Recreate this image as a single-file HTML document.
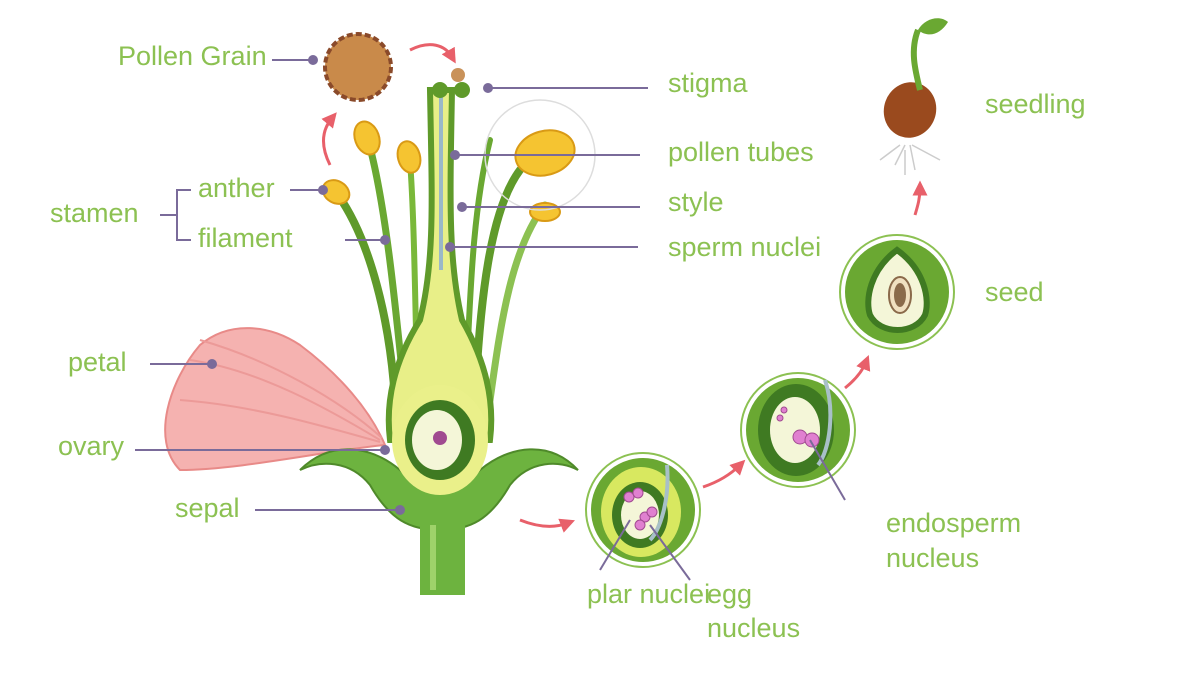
<!DOCTYPE html>
<html><head><meta charset="utf-8"><style>
html,body{margin:0;padding:0;background:#fff;}
svg{display:block}
text{font-family:"Liberation Sans",sans-serif;font-size:27px;fill:#8cc152;}
</style></head><body>
<svg width="1200" height="675" viewBox="0 0 1200 675" xmlns="http://www.w3.org/2000/svg">
<defs>
<marker id="ar" viewBox="0 0 10 10" refX="5" refY="5" markerWidth="5" markerHeight="5" orient="auto"><path d="M0,0 L10,5 L0,10 z" fill="#e8606a"/></marker>
</defs>
<path d="M385,445 C330,450 240,470 180,470 C150,440 170,380 200,345 C230,320 270,325 300,345 C340,375 370,410 385,445 z" fill="#f5b2b0" stroke="#e88a88" stroke-width="2"/>
<path d="M190,360 C260,370 330,410 380,440 M180,400 C250,405 320,425 380,442 M200,340 C270,360 340,400 382,438" stroke="#ec9a98" stroke-width="2" fill="none"/>
<g fill="none" stroke-linecap="round">
<path d="M338,195 C370,240 390,320 395,400" stroke="#5f9a2a" stroke-width="8"/>
<path d="M368,140 C385,200 395,300 405,400" stroke="#6aa832" stroke-width="7"/>
<path d="M410,160 C415,230 415,320 418,400" stroke="#7ab83a" stroke-width="6"/>
<path d="M520,170 C490,210 480,300 475,400" stroke="#5f9a2a" stroke-width="8"/>
<path d="M545,205 C510,250 500,330 490,400" stroke="#8cc152" stroke-width="7"/>
<path d="M490,140 C470,220 470,320 465,400" stroke="#6aa832" stroke-width="6"/>
</g>
<g fill="#f5c431" stroke="#d99a15" stroke-width="2">
<ellipse cx="336" cy="192" rx="14" ry="11" transform="rotate(30 336 192)"/>
<ellipse cx="367" cy="138" rx="12" ry="17" transform="rotate(-20 367 138)"/>
<ellipse cx="409" cy="157" rx="11" ry="16" transform="rotate(-15 409 157)"/>
<ellipse cx="545" cy="153" rx="30" ry="22" transform="rotate(-15 545 153)"/>
<ellipse cx="545" cy="212" rx="15" ry="9"/>
</g>
<circle cx="540" cy="155" r="55" fill="none" stroke="#ddd" stroke-width="1.5"/>
<path d="M430,90 C432,200 435,260 420,320 C395,360 385,400 390,440 L490,440 C495,400 485,360 462,320 C448,260 450,200 452,90 z" fill="#e8ef88" stroke="#5f9a2a" stroke-width="6"/>
<path d="M441,90 L441,270" stroke="#9ab8c8" stroke-width="4"/>
<circle cx="440" cy="90" r="8" fill="#5f9a2a"/><circle cx="462" cy="90" r="8" fill="#5f9a2a"/>
<circle cx="458" cy="75" r="7" fill="#c9925a"/>
<path d="M300,470 C330,440 370,445 400,470 C420,490 460,490 480,470 C510,445 550,440 578,470 C560,460 530,460 510,485 C490,520 470,530 440,530 C410,530 390,520 370,485 C350,460 320,460 300,470 z" fill="#6db33f" stroke="#4f8a2a" stroke-width="2"/>
<path d="M420,520 L420,595 L465,595 L465,520 z" fill="#6db33f"/>
<path d="M433,525 L433,590" stroke="#9ed26a" stroke-width="6"/>
<ellipse cx="440" cy="440" rx="48" ry="55" fill="#eaf08a"/>
<ellipse cx="440" cy="440" rx="35" ry="40" fill="#3f7a22"/>
<ellipse cx="437" cy="440" rx="25" ry="30" fill="#f4f6d8"/>
<circle cx="440" cy="438" r="7" fill="#a04a90"/>
<circle cx="358" cy="67" r="33" fill="#c98a4a" stroke="#8a4a2a" stroke-width="4" stroke-dasharray="6 3"/>
<path d="M410,50 C430,40 445,45 452,57" stroke="#e8606a" stroke-width="3" fill="none" marker-end="url(#ar)"/>
<path d="M330,165 C320,145 322,130 332,118" stroke="#e8606a" stroke-width="3" fill="none" marker-end="url(#ar)"/>
<g stroke="#e8606a" stroke-width="3" fill="none" marker-end="url(#ar)">
<path d="M520,520 C540,528 555,528 568,523"/>
<path d="M703,487 C718,482 730,475 740,465"/>
<path d="M845,388 C855,380 862,372 866,362"/>
<path d="M915,215 C918,205 920,198 920,188"/>
</g>
<g>
<circle cx="643" cy="510" r="57" fill="#fff" stroke="#8cc152" stroke-width="2"/>
<circle cx="643" cy="510" r="52" fill="#6aa832"/>
<ellipse cx="641" cy="512" rx="40" ry="45" fill="#d8e860"/>
<ellipse cx="640" cy="515" rx="28" ry="33" fill="#3f7a22"/>
<ellipse cx="640" cy="515" rx="19" ry="24" fill="#f4f6d8"/>
<g fill="#e080d0" stroke="#a04a90"><circle cx="629" cy="497" r="5"/><circle cx="638" cy="493" r="5"/><circle cx="645" cy="517" r="5"/><circle cx="652" cy="512" r="5"/><circle cx="640" cy="525" r="5"/></g>
<path d="M667,465 C670,500 660,530 650,540" stroke="#a8c0c8" stroke-width="4" fill="none"/>
</g>
<g>
<circle cx="798" cy="430" r="57" fill="#fff" stroke="#8cc152" stroke-width="2"/>
<circle cx="798" cy="430" r="52" fill="#6aa832"/>
<ellipse cx="796" cy="430" rx="38" ry="46" fill="#3f7a22"/>
<ellipse cx="795" cy="430" rx="25" ry="33" fill="#f4f6d8"/>
<g fill="#e080d0" stroke="#a04a90"><circle cx="800" cy="437" r="7"/><circle cx="812" cy="440" r="7"/><circle cx="784" cy="410" r="3"/><circle cx="780" cy="418" r="3"/></g>
<path d="M825,380 C835,410 830,450 818,465" stroke="#a8c0c8" stroke-width="4" fill="none"/>
</g>
<g>
<circle cx="897" cy="292" r="57" fill="#fff" stroke="#8cc152" stroke-width="2"/>
<circle cx="897" cy="292" r="52" fill="#6aa832"/>
<path d="M897,250 C870,270 865,300 870,315 C880,335 915,335 925,315 C930,300 925,270 897,250 z" fill="#f4f6d8" stroke="#3f7a22" stroke-width="6"/>
<ellipse cx="900" cy="295" rx="11" ry="18" fill="#f0e0c0" stroke="#8a6a4a" stroke-width="2"/>
<ellipse cx="900" cy="295" rx="6" ry="12" fill="#8a6a4a"/>
</g>
<path d="M905,145 L895,165 M910,145 L915,170 M900,145 L880,160 M912,145 L940,160 M905,150 L905,175" stroke="#ccc" stroke-width="1.5"/>
<ellipse cx="910" cy="110" rx="26" ry="28" fill="#9a4a1e" transform="rotate(20 910 110)"/>
<path d="M920,90 C915,70 910,50 918,30" stroke="#6aa832" stroke-width="6" fill="none"/>
<path d="M918,30 C925,18 940,15 948,22 C940,35 928,38 918,30 z" fill="#6aa832"/>
<g stroke="#7a6b9a" stroke-width="2" fill="#7a6b9a">
<line x1="272" y1="60" x2="313" y2="60"/><circle cx="313" cy="60" r="4"/>
<line x1="488" y1="88" x2="648" y2="88"/><circle cx="488" cy="88" r="4"/>
<line x1="455" y1="155" x2="640" y2="155"/><circle cx="455" cy="155" r="4"/>
<line x1="462" y1="207" x2="640" y2="207"/><circle cx="462" cy="207" r="4"/>
<line x1="450" y1="247" x2="638" y2="247"/><circle cx="450" cy="247" r="4"/>
<line x1="290" y1="190" x2="323" y2="190"/><circle cx="323" cy="190" r="4"/>
<line x1="345" y1="240" x2="385" y2="240"/><circle cx="385" cy="240" r="4"/>
<line x1="150" y1="364" x2="212" y2="364"/><circle cx="212" cy="364" r="4"/>
<line x1="135" y1="450" x2="385" y2="450"/><circle cx="385" cy="450" r="4"/>
<line x1="255" y1="510" x2="400" y2="510"/><circle cx="400" cy="510" r="4"/>
<path d="M191,190 L177,190 L177,240 L191,240 M160,215 L177,215" fill="none"/>
<line x1="630" y1="520" x2="600" y2="570"/><line x1="650" y1="525" x2="690" y2="580"/>
<line x1="810" y1="440" x2="845" y2="500"/>
</g>
<text x="118" y="65">Pollen Grain</text>
<text x="668" y="92">stigma</text>
<text x="668" y="161">pollen tubes</text>
<text x="668" y="211">style</text>
<text x="668" y="256">sperm nuclei</text>
<text x="985" y="113">seedling</text>
<text x="985" y="301">seed</text>
<text x="50" y="222">stamen</text>
<text x="198" y="197">anther</text>
<text x="198" y="247">filament</text>
<text x="68" y="371">petal</text>
<text x="58" y="455">ovary</text>
<text x="175" y="517">sepal</text>
<text x="886" y="532">endosperm</text>
<text x="886" y="567">nucleus</text>
<text x="587" y="603">plar nuclei</text>
<text x="707" y="603">egg</text>
<text x="707" y="637">nucleus</text>
</svg>
</body></html>
